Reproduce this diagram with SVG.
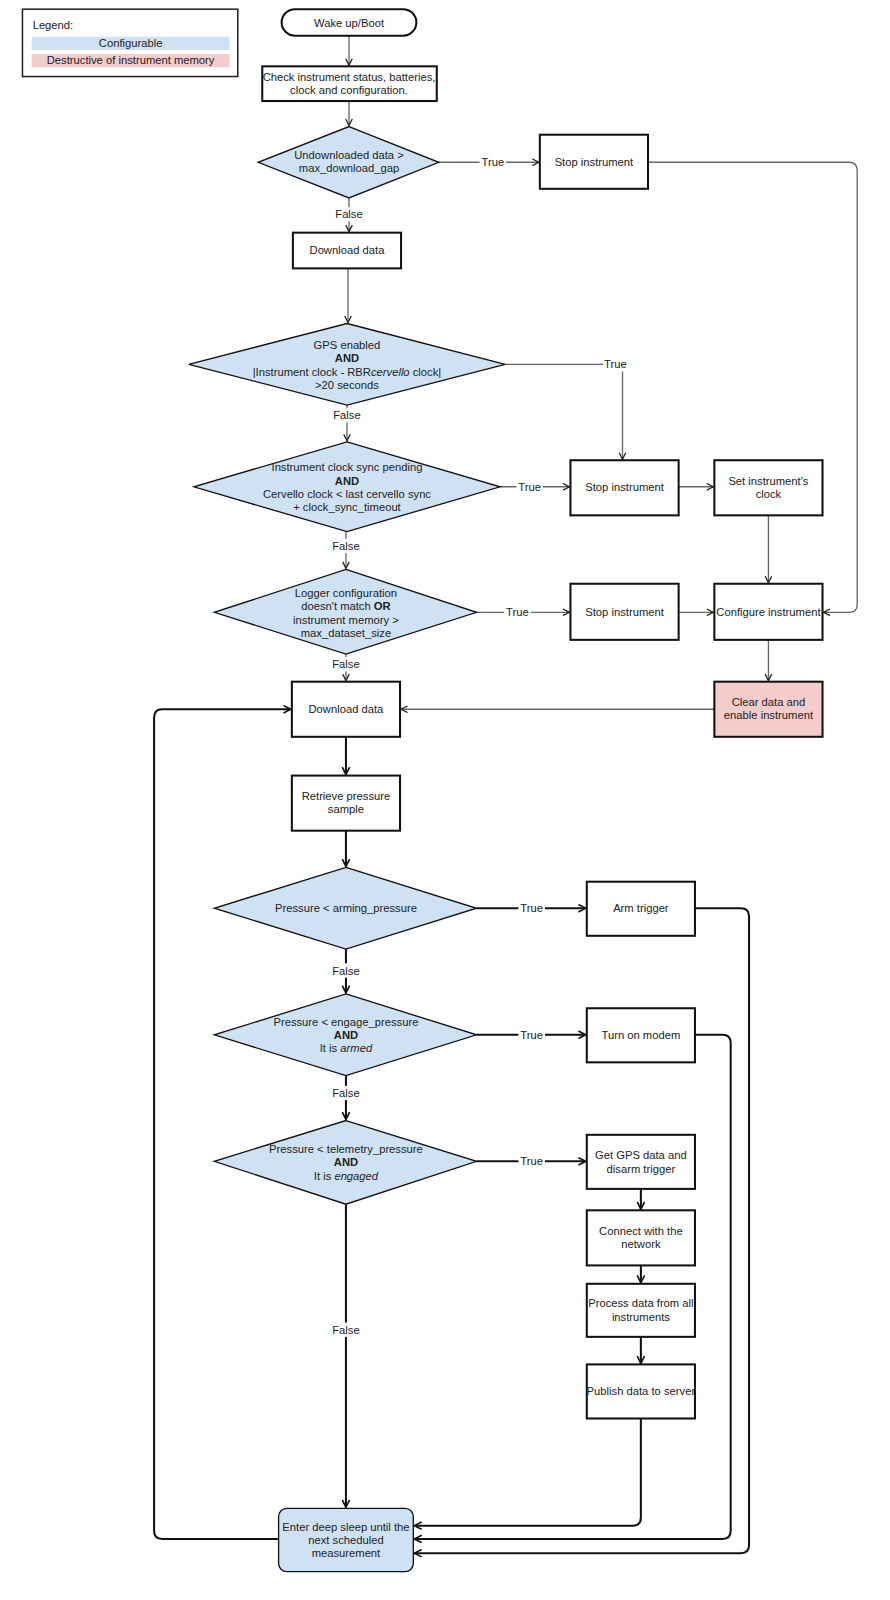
<svg xmlns="http://www.w3.org/2000/svg" width="890" height="1600" viewBox="0 0 890 1600">
<style>
text{font-family:"Liberation Sans",Arial,sans-serif;font-size:11px;fill:#222;text-anchor:middle}
.n{fill:#fff;stroke:#111;stroke-width:2}
.b{fill:#cfe2f3;stroke:#111;stroke-width:1.3}
.p{fill:#f4cccc;stroke:#111;stroke-width:2}
.c1{fill:none;stroke:#666;stroke-width:1.3;marker-end:url(#ag)}
.c2{fill:none;stroke:#111;stroke-width:2;marker-end:url(#ak)}
.lb{fill:#fff}
</style>
<defs>
<marker id="ag" viewBox="0 0 10 10" refX="9" refY="5" markerWidth="8" markerHeight="8" markerUnits="userSpaceOnUse" orient="auto"><path d="M1,1 L9,5 L1,9" fill="none" stroke="#222" stroke-width="1.6"/></marker>
<marker id="ak" viewBox="0 0 10 10" refX="9" refY="5" markerWidth="9" markerHeight="9" markerUnits="userSpaceOnUse" orient="auto"><path d="M1,1 L9,5 L1,9" fill="none" stroke="#111" stroke-width="1.8"/></marker>
</defs>
<rect width="890" height="1600" fill="#fff"/>
<g transform="scale(1.0205)">
<g id="legend">
<rect x="22" y="9" width="211" height="66" fill="#fff" stroke="#222" stroke-width="1.5"/>
<text x="32" y="28" style="text-anchor:start">Legend:</text>
<rect x="31" y="36" width="194" height="13" fill="#cfe2f3"/>
<text x="128" y="46">Configurable</text>
<rect x="31" y="53" width="194" height="13" fill="#f4cccc"/>
<text x="128" y="63">Destructive of instrument memory</text>
</g>
<g id="connectors">
<path class="c1" d="M342,35 V64"/>
<path class="c1" d="M342,99 V123"/>
<path class="c1" d="M430,159 H528"/>
<path class="c1" d="M635,159 H832 Q840,159 840,167 V592 Q840,600 832,600 H807"/>
<path class="c1" d="M342,194 V227"/>
<path class="c1" d="M341,263 V316"/>
<path class="c1" d="M495,357 H610 V450"/>
<path class="c1" d="M340,397 V432"/>
<path class="c1" d="M490,477 H558"/>
<path class="c1" d="M665,477 H699"/>
<path class="c1" d="M753,505 V571"/>
<path class="c1" d="M339,521 V557"/>
<path class="c1" d="M467,600 H558"/>
<path class="c1" d="M665,600 H699"/>
<path class="c1" d="M339,641 V667"/>
<path class="c1" d="M753,627 V667"/>
<path class="c1" d="M700,695 H393"/>
<path class="c2" d="M339,722 V759"/>
<path class="c2" d="M339,814 V849"/>
<path class="c2" d="M467,890 H574"/>
<path class="c2" d="M681,890 H726 Q734,890 734,898 V1514 Q734,1522 726,1522 H406"/>
<path class="c2" d="M339,930 V973"/>
<path class="c2" d="M467,1014 H574"/>
<path class="c2" d="M681,1014 H708 Q716,1014 716,1022 V1500 Q716,1508 708,1508 H406"/>
<path class="c2" d="M339,1054 V1097"/>
<path class="c2" d="M467,1138 H574"/>
<path class="c2" d="M628,1165 V1185"/>
<path class="c2" d="M628,1240 V1257"/>
<path class="c2" d="M628,1310 V1336"/>
<path class="c2" d="M628,1390 V1487 Q628,1495 620,1495 H406"/>
<path class="c2" d="M339,1180 V1477"/>
<path class="c2" d="M273,1508 H159 Q151,1508 151,1500 V703 Q151,695 159,695 H285"/>
<rect class="lb" x="470" y="152" width="26" height="14"/><text x="483" y="163">True</text>
<rect class="lb" x="326" y="203" width="32" height="14"/><text x="342" y="214">False</text>
<rect class="lb" x="591" y="350" width="26" height="14"/><text x="603" y="361">True</text>
<rect class="lb" x="324" y="400" width="32" height="14"/><text x="340" y="411">False</text>
<rect class="lb" x="506" y="470" width="26" height="14"/><text x="519" y="481">True</text>
<rect class="lb" x="323" y="528" width="32" height="14"/><text x="339" y="539">False</text>
<rect class="lb" x="494" y="593" width="26" height="14"/><text x="507" y="604">True</text>
<rect class="lb" x="323" y="644" width="32" height="14"/><text x="339" y="655">False</text>
<rect class="lb" x="508" y="883" width="26" height="14"/><text x="521" y="894">True</text>
<rect class="lb" x="323" y="944" width="32" height="14"/><text x="339" y="955">False</text>
<rect class="lb" x="508" y="1007" width="26" height="14"/><text x="521" y="1018">True</text>
<rect class="lb" x="323" y="1064" width="32" height="14"/><text x="339" y="1075">False</text>
<rect class="lb" x="508" y="1131" width="26" height="14"/><text x="521" y="1142">True</text>
<rect class="lb" x="323" y="1296" width="32" height="14"/><text x="339" y="1307">False</text>
</g>
<g id="wake"><rect class="n" x="276" y="9" width="132" height="26" rx="13" stroke-width="1.5"/><text x="342" y="26">Wake up/Boot</text></g>
<g id="check"><rect class="n" x="257" y="65" width="171" height="34"/><text x="342" y="79">Check instrument status, batteries,</text><text x="342" y="92">clock and configuration.</text></g>
<g id="d1"><polygon class="b" points="342,124 430,159 342,194 253,159"/><text x="342" y="156">Undownloaded data &gt;</text><text x="342" y="169">max_download_gap</text></g>
<g id="stop1"><rect class="n" x="529" y="132" width="106" height="53"/><text x="582" y="163">Stop instrument</text></g>
<g id="dl1"><rect class="n" x="287" y="228" width="106" height="35"/><text x="340" y="249">Download data</text></g>
<g id="d2"><polygon class="b" points="340,317 495,357 340,397 185,357"/><text x="340" y="342">GPS enabled</text><text x="340" y="355" font-weight="bold">AND</text><text x="340" y="368">|Instrument clock - RBR<tspan font-style="italic">cervello</tspan> clock|</text><text x="340" y="381">&gt;20 seconds</text></g>
<g id="d3"><polygon class="b" points="340,433 490,477 340,521 190,477"/><text x="340" y="462">Instrument clock sync pending</text><text x="340" y="475" font-weight="bold">AND</text><text x="340" y="488">Cervello clock &lt; last cervello sync</text><text x="340" y="501">+ clock_sync_timeout</text></g>
<g id="stop2"><rect class="n" x="559" y="451" width="106" height="54"/><text x="612" y="481">Stop instrument</text></g>
<g id="setclock"><rect class="n" x="700" y="451" width="106" height="54"/><text x="753" y="475">Set instrument's</text><text x="753" y="488">clock</text></g>
<g id="d4"><polygon class="b" points="339,558 467,600 339,641 210,600"/><text x="339" y="585">Logger configuration</text><text x="339" y="598">doesn't match <tspan font-weight="bold">OR</tspan></text><text x="339" y="611">instrument memory &gt;</text><text x="339" y="624">max_dataset_size</text></g>
<g id="stop3"><rect class="n" x="559" y="572" width="106" height="55"/><text x="612" y="604">Stop instrument</text></g>
<g id="configure"><rect class="n" x="700" y="572" width="106" height="55"/><text x="753" y="604">Configure instrument</text></g>
<g id="dl2"><rect class="n" x="286" y="668" width="106" height="54"/><text x="339" y="699">Download data</text></g>
<g id="clear"><rect class="p" x="700" y="668" width="106" height="54"/><text x="753" y="692">Clear data and</text><text x="753" y="705">enable instrument</text></g>
<g id="retrieve"><rect class="n" x="286" y="760" width="106" height="54"/><text x="339" y="784">Retrieve pressure</text><text x="339" y="797">sample</text></g>
<g id="d5"><polygon class="b" points="339,850 467,890 339,930 210,890"/><text x="339" y="894">Pressure &lt; arming_pressure</text></g>
<g id="arm"><rect class="n" x="575" y="864" width="106" height="53"/><text x="628" y="894">Arm trigger</text></g>
<g id="d6"><polygon class="b" points="339,974 467,1014 339,1054 210,1014"/><text x="339" y="1005">Pressure &lt; engage_pressure</text><text x="339" y="1018" font-weight="bold">AND</text><text x="339" y="1031">It is <tspan font-style="italic">armed</tspan></text></g>
<g id="modem"><rect class="n" x="575" y="988" width="106" height="53"/><text x="628" y="1018">Turn on modem</text></g>
<g id="d7"><polygon class="b" points="339,1098 467,1138 339,1180 210,1138"/><text x="339" y="1130">Pressure &lt; telemetry_pressure</text><text x="339" y="1143" font-weight="bold">AND</text><text x="339" y="1156">It is <tspan font-style="italic">engaged</tspan></text></g>
<g id="gps"><rect class="n" x="575" y="1112" width="106" height="53"/><text x="628" y="1136">Get GPS data and</text><text x="628" y="1149">disarm trigger</text></g>
<g id="connect"><rect class="n" x="575" y="1186" width="106" height="54"/><text x="628" y="1210">Connect with the</text><text x="628" y="1223">network</text></g>
<g id="process"><rect class="n" x="575" y="1258" width="106" height="52"/><text x="628" y="1281">Process data from all</text><text x="628" y="1294">instruments</text></g>
<g id="publish"><rect class="n" x="575" y="1337" width="106" height="53"/><text x="628" y="1367">Publish data to server</text></g>
<g id="sleep"><rect class="b" x="273" y="1478" width="132" height="62" rx="8" stroke-width="2"/><text x="339" y="1500">Enter deep sleep until the</text><text x="339" y="1513">next scheduled</text><text x="339" y="1526">measurement</text></g>
</g>
</svg>
